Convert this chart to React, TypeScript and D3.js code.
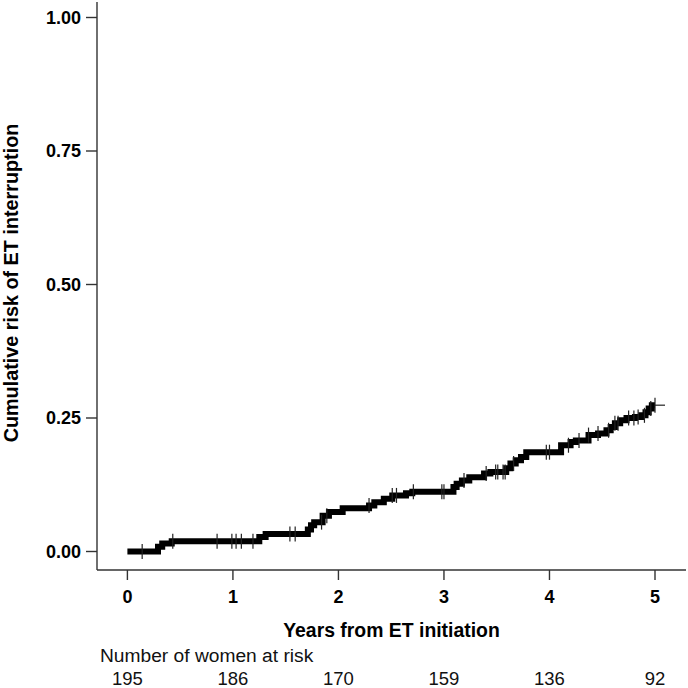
import React from "react";
import * as d3 from "d3";

// Step function of cumulative risk (time in years, value after the step)
const stepTimes = [0, 0.29, 0.33, 0.42, 1.25, 1.31, 1.71, 1.74, 1.77, 1.85, 1.91, 2.04, 2.29, 2.34, 2.43, 2.51, 2.64, 2.7, 3.09, 3.12, 3.17, 3.24, 3.38, 3.44, 3.59, 3.63, 3.68, 3.73, 3.78, 4.11, 4.2, 4.25, 4.37, 4.46, 4.54, 4.58, 4.62, 4.67, 4.73, 4.81, 4.87, 4.91, 4.94, 4.97, 5.0];
const stepValues = [0, 0.009, 0.015, 0.019, 0.027, 0.033, 0.041, 0.049, 0.055, 0.067, 0.074, 0.081, 0.086, 0.092, 0.099, 0.105, 0.109, 0.112, 0.121, 0.127, 0.133, 0.139, 0.146, 0.149, 0.156, 0.165, 0.171, 0.177, 0.186, 0.199, 0.205, 0.208, 0.218, 0.221, 0.227, 0.233, 0.24, 0.246, 0.25, 0.252, 0.255, 0.261, 0.268, 0.274, 0.274];

// Censoring times
const censorTimes = [0.14, 0.43, 0.85, 0.99, 1.03, 1.08, 1.19, 1.54, 1.59, 1.84, 1.89, 2.29, 2.51, 2.55, 2.71, 2.98, 3.0, 3.19, 3.4, 3.49, 3.51, 3.56, 3.58, 3.66, 3.97, 4.0, 4.18, 4.28, 4.37, 4.46, 4.56, 4.62, 4.65, 4.75, 4.8, 4.84, 4.9, 4.96, 5.0];

const xTicks = [0, 1, 2, 3, 4, 5];
const yTicks = [0, 0.25, 0.5, 0.75, 1];
const yTickLabels = ["0.00", "0.25", "0.50", "0.75", "1.00"];
const atRisk = [195, 186, 170, 159, 136, 92];

const xLabel = "Years from ET initiation";
const yLabel = "Cumulative risk of ET interruption";
const riskLabel = "Number of women at risk";

export default function App() {
  const W = 688, H = 688;
  const x = d3.scaleLinear().domain([0, 5]).range([127.4, 655]);
  const y = d3.scaleLinear().domain([0, 1]).range([551.5, 17.5]);
  const font = "'Liberation Sans', Arial, sans-serif";

  const pts = stepTimes.map((t, i) => [t, stepValues[i]] as [number, number]);
  const line = d3.line<[number, number]>()
    .x(d => x(d[0]))
    .y(d => y(d[1]))
    .curve(d3.curveStepAfter);
  const pathD = line(pts) || "";

  const valueAt = (t: number) => {
    let v = 0;
    for (let i = 0; i < stepTimes.length; i++) {
      if (stepTimes[i] <= t) v = stepValues[i];
    }
    return v;
  };

  const axisX0 = 97, axisY0 = 570;

  return (
    <div style={{ position: "fixed", left: 0, top: 0 }}>
      <svg width={W} height={H} style={{ display: "block", background: "#fff" }}>
        {/* axes */}
        <line x1={axisX0} x2={axisX0} y1={2} y2={axisY0} stroke="#333" strokeWidth={1.4} />
        <line x1={axisX0} x2={686} y1={axisY0} y2={axisY0} stroke="#333" strokeWidth={1.4} />
        {yTicks.map((v, i) => (
          <g key={"yt" + i}>
            <line x1={86} x2={axisX0} y1={y(v)} y2={y(v)} stroke="#333" strokeWidth={1.4} />
            <text x={81} y={y(v)} dy="0.36em" textAnchor="end" fontFamily={font} fontWeight="bold" fontSize={18} fill="#000">
              {yTickLabels[i]}
            </text>
          </g>
        ))}
        {xTicks.map((t, i) => (
          <g key={"xt" + i}>
            <line x1={x(t)} x2={x(t)} y1={axisY0} y2={580} stroke="#333" strokeWidth={1.4} />
            <text x={x(t)} y={603} textAnchor="middle" fontFamily={font} fontWeight="bold" fontSize={18} fill="#000">
              {t}
            </text>
            <text x={x(t)} y={685} textAnchor="middle" fontFamily={font} fontSize={18.5} fill="#111">
              {atRisk[i]}
            </text>
          </g>
        ))}
        <text x={(axisX0 + 686) / 2} y={637} textAnchor="middle" fontFamily={font} fontWeight="bold" fontSize={19.4} fill="#000">
          {xLabel}
        </text>
        <text x={100} y={661.5} fontFamily={font} fontSize={19.2} fill="#111">
          {riskLabel}
        </text>
        <text transform={`translate(18,${283}) rotate(-90)`} textAnchor="middle" fontFamily={font} fontWeight="bold" fontSize={19.8} fill="#000">
          {yLabel}
        </text>

        {/* curve */}
        <path d={pathD} fill="none" stroke="#000" strokeWidth={6} strokeLinejoin="miter" strokeLinecap="butt" />
        {censorTimes.map((t, i) => {
          const cy = y(valueAt(t));
          return (
            <line key={"c" + i} x1={x(t)} x2={x(t)} y1={cy - 7.5} y2={cy + 7.5} stroke="#222" strokeWidth={1.2} />
          );
        })}
        {/* final censor cross arm */}
        <line x1={x(5)} x2={x(5) + 10} y1={y(stepValues[stepValues.length - 1])} y2={y(stepValues[stepValues.length - 1])} stroke="#222" strokeWidth={1.2} />
      </svg>
    </div>
  );
}
